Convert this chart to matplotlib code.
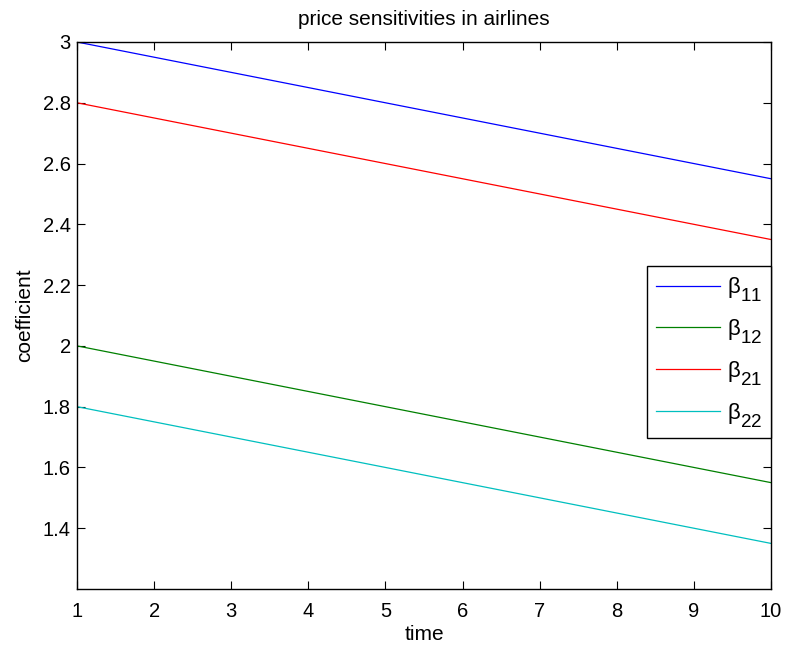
import matplotlib
matplotlib.use('Agg')
import matplotlib.pyplot as plt
import matplotlib._mathtext as mtext

# bigger and lower subscripts, closer to the MATLAB tex look
mtext.SHRINK_FACTOR = 0.85
mtext.FontConstantsBase.sub1 = 0.7
mtext.FontConstantsBase.subdrop = 0.6

plt.rcParams['font.family'] = ['Liberation Sans', 'DejaVu Sans']
plt.rcParams['mathtext.fontset'] = 'custom'
plt.rcParams['mathtext.rm'] = 'Liberation Sans'
plt.rcParams['mathtext.it'] = 'Liberation Sans'
plt.rcParams['mathtext.default'] = 'regular'

time = [1, 2, 3, 4, 5, 6, 7, 8, 9, 10]
b11 = [3.00, 2.95, 2.90, 2.85, 2.80, 2.75, 2.70, 2.65, 2.60, 2.55]
b12 = [2.00, 1.95, 1.90, 1.85, 1.80, 1.75, 1.70, 1.65, 1.60, 1.55]
b21 = [2.80, 2.75, 2.70, 2.65, 2.60, 2.55, 2.50, 2.45, 2.40, 2.35]
b22 = [1.80, 1.75, 1.70, 1.65, 1.60, 1.55, 1.50, 1.45, 1.40, 1.35]
labels = [r'$\beta_{11}$', r'$\beta_{12}$', r'$\beta_{21}$', r'$\beta_{22}$']
colors = ['#0000ff', '#008000', '#ff0000', '#00bfbf']

fig = plt.figure(figsize=(7.85, 6.48), dpi=100)
ax = fig.add_axes([77 / 785, 59 / 648, 694 / 785, 547 / 648])

for y, lab, c in zip([b11, b12, b21, b22], labels, colors):
    ax.plot(time, y, color=c, lw=0.9, label=lab)

ax.set_xlim(1, 10)
ax.set_ylim(1.2, 3)
ax.set_xticks(range(1, 11))
ax.set_yticks([1.4, 1.6, 1.8, 2, 2.2, 2.4, 2.6, 2.8, 3])
ax.set_yticklabels(['1.4', '1.6', '1.8', '2', '2.2', '2.4', '2.6', '2.8', '3'])
ax.tick_params(direction='in', top=True, right=True, labelsize=14.5, length=6, width=0.8)
ax.tick_params(axis='x', pad=9.5)
ax.tick_params(axis='y', pad=4.5)
for s in ax.spines.values():
    s.set_linewidth(1.0)

ax.set_xlabel('time', fontsize=15)
ax.set_ylabel('coefficient', fontsize=15)
ax.xaxis.set_label_coords(0.5, -0.0655)
ax.yaxis.set_label_coords(-0.0613, 0.5)
ax.set_title('price sensitivities in airlines', fontsize=15, pad=12.5)

leg = ax.legend(loc='center right', bbox_to_anchor=(1.0, 0.4325), fontsize=16,
                fancybox=False, edgecolor='black', framealpha=1, borderaxespad=0,
                handlelength=2.9, handletextpad=0.3, labelspacing=0.61, borderpad=0.4)
leg.get_frame().set_linewidth(1.0)

fig.savefig('out.png', dpi=100)
